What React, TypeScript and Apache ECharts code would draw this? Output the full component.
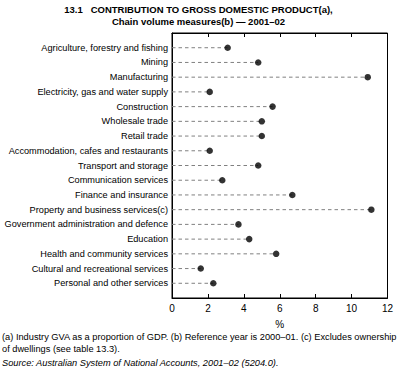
import React, { useEffect, useRef } from "react";
import * as echarts from "echarts";

const categories = [
  "Agriculture, forestry and fishing",
  "Mining",
  "Manufacturing",
  "Electricity, gas and water supply",
  "Construction",
  "Wholesale trade",
  "Retail trade",
  "Accommodation, cafes and restaurants",
  "Transport and storage",
  "Communication services",
  "Finance and insurance",
  "Property and business services(c)",
  "Government administration and defence",
  "Education",
  "Health and community services",
  "Cultural and recreational services",
  "Personal and other services",
];
const values = [3.1, 4.8, 10.9, 2.1, 5.6, 5.0, 5.0, 2.1, 4.8, 2.8, 6.7, 11.1, 3.7, 4.3, 5.8, 1.6, 2.3];
const xTicks = [0, 2, 4, 6, 8, 10, 12];

const titleLines = [
  "13.1   CONTRIBUTION TO GROSS DOMESTIC PRODUCT(a),",
  "Chain volume measures(b) \u2014 2001\u201302",
];
const footnotes = [
  "(a) Industry GVA as a proportion of GDP. (b) Reference year is 2000\u201301. (c) Excludes ownership",
  "of dwellings (see table 13.3).",
];
const sourceNote = "Source: Australian System of National Accounts, 2001\u201302 (5204.0).";

const FONT = "'Liberation Sans', Arial, sans-serif";

export default function App() {
  const ref = useRef<HTMLDivElement>(null);
  useEffect(() => {
    if (!ref.current) return;
    const chart = echarts.init(ref.current, null, { renderer: "svg" });
    const yCats = ["", ...categories, ""];
    const pts = values.map((v, i) => [v, i + 1]);
    chart.setOption({
      animation: false,
      textStyle: { fontFamily: FONT },
      grid: {
        left: 172,
        right: 9.5,
        top: 33,
        height: 265,
        show: true,
        borderColor: "#000",
        borderWidth: 1,
        containLabel: false,
        outerBoundsMode: "none",
      },
      xAxis: [
        {
          type: "value",
          position: "bottom",
          min: 0,
          max: xTicks[xTicks.length - 1],
          interval: 2,
          axisLine: { show: true, lineStyle: { color: "#000", width: 1 } },
          axisTick: { show: true, inside: true, length: 4, lineStyle: { color: "#000" } },
          axisLabel: { color: "#000", fontSize: 10, fontFamily: FONT, margin: 5 },
          splitLine: { show: false },
          name: "%",
          nameLocation: "middle",
          nameGap: 21,
          nameTextStyle: { color: "#000", fontSize: 10, fontFamily: FONT },
        },
        {
          type: "value",
          position: "top",
          min: 0,
          max: xTicks[xTicks.length - 1],
          interval: 2,
          axisLine: { show: true, lineStyle: { color: "#000", width: 1 } },
          axisTick: { show: true, inside: true, length: 4, lineStyle: { color: "#000" } },
          axisLabel: { show: false },
          splitLine: { show: false },
        },
      ],
      yAxis: {
        type: "category",
        data: yCats,
        inverse: true,
        boundaryGap: false,
        axisLine: { show: true, lineStyle: { color: "#000", width: 1 } },
        axisTick: { show: false },
        axisLabel: { color: "#000", fontSize: 9.2, fontFamily: FONT, margin: 4, interval: 0 },
        splitLine: { show: false },
      },
      series: [
        {
          type: "custom",
          xAxisIndex: 0,
          data: pts,
          renderItem: (params: any, api: any) => {
            const v = api.value(0);
            const c = api.value(1);
            const s = api.coord([0, c]);
            const e = api.coord([v, c]);
            return {
              type: "line",
              shape: { x1: s[0], y1: s[1], x2: e[0], y2: e[1] },
              style: { stroke: "#808080", lineWidth: 1, lineDash: [3.5, 3] },
            };
          },
          z: 2,
        },
        {
          type: "scatter",
          xAxisIndex: 0,
          data: pts,
          symbol: "circle",
          symbolSize: 6.5,
          itemStyle: { color: "#000" },
          z: 3,
        },
      ],
      graphic: [
        {
          type: "text",
          left: "center",
          top: 4,
          style: { text: titleLines[0], font: `bold 9.5px ${FONT}`, fill: "#000" },
        },
        {
          type: "text",
          left: "center",
          top: 16,
          style: { text: titleLines[1], font: `bold 9.5px ${FONT}`, fill: "#000" },
        },
        {
          type: "text",
          left: 2,
          top: 332,
          style: { text: footnotes[0], font: `9.25px ${FONT}`, fill: "#000" },
        },
        {
          type: "text",
          left: 2,
          top: 344,
          style: { text: footnotes[1], font: `9.25px ${FONT}`, fill: "#000" },
        },
        {
          type: "text",
          left: 2,
          top: 358,
          style: { text: sourceNote, font: `italic 9.25px ${FONT}`, fill: "#000" },
        },
      ],
    });
    return () => chart.dispose();
  }, []);
  return (
    <div
      ref={ref}
      style={{ position: "fixed", left: 0, top: 0, width: 397, height: 378, background: "#fff" }}
    />
  );
}
